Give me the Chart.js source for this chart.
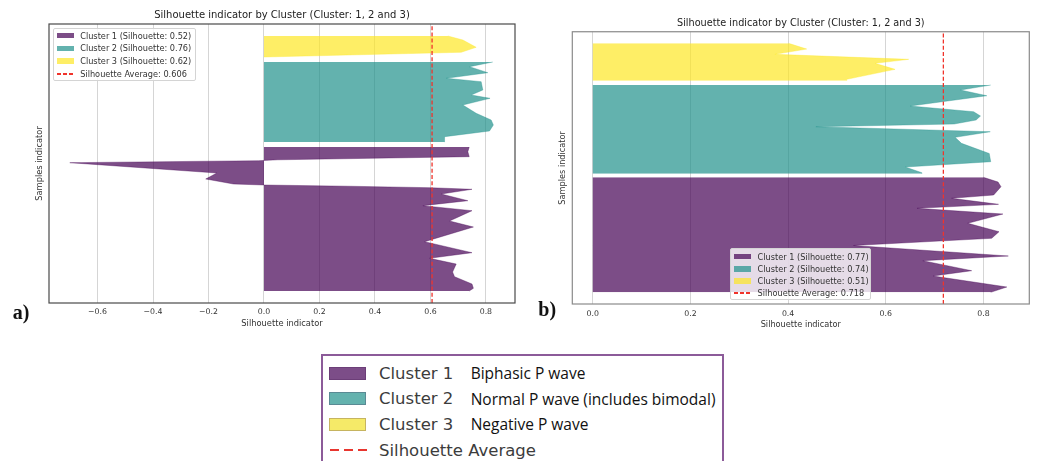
<!DOCTYPE html>
<html>
<head>
<meta charset="utf-8">
<title>Silhouette indicator by Cluster</title>
<script src="https://cdn.jsdelivr.net/npm/chart.js@4.4.1/dist/chart.umd.min.js"></script>
<style>
	html, body { margin: 0; padding: 0; background: #fff; }
	body { position: relative; width: 1038px; height: 461px; overflow: hidden; font-family: "DejaVu Sans", sans-serif; }
	canvas { position: absolute; top: 0; }
	#panelA { left: 0; }
	#panelB { left: 520px; }
	.tag { position: absolute; font: bold 20px "Liberation Serif", serif; line-height: 20px; color: #111; }
	.mpl-legend { position: absolute; box-sizing: border-box; border: 1px solid #d4d4d4; border-radius: 2px; background: rgba(255, 255, 255, 0.8); font-size: 8.2px; color: #333; }
	.mpl-legend .row { position: absolute; left: 3px; height: 10px; display: flex; align-items: center; white-space: nowrap; }
	.mpl-legend .swatch { width: 17px; height: 5.5px; margin-right: 6.5px; }
	.mpl-legend .dash { width: 17px; height: 2px; margin-right: 6.5px; display: flex; gap: 2px; }
	.mpl-legend .dash i { display: block; width: 4px; height: 2px; background: #f0332b; }
	#key { position: absolute; left: 321px; top: 354px; width: 399px; height: 120px; border: 2px solid #8c5b99; }
	#key .row { position: absolute; left: 0; height: 25.7px; width: 100%; display: flex; align-items: center; white-space: nowrap; }
	#key .swatch { position: absolute; left: 6px; width: 35px; height: 11px; border: 1px solid rgba(60, 20, 70, 0.25); }
	#key .dash { position: absolute; left: 7px; width: 37px; height: 2px; display: flex; gap: 5px; }
	#key .dash i { display: block; width: 9px; height: 2px; background: #e8362f; }
	#key .name { position: absolute; left: 56px; font: 16.5px "DejaVu Sans", sans-serif; color: #3c3c3c; }
	#key .meaning { position: absolute; left: 147.7px; font: 15.5px "Open Sans", sans-serif; color: #111; }
</style>
</head>
<body>
<canvas id="panelA" width="520" height="340"></canvas>
<canvas id="panelB" width="518" height="340"></canvas>
<div class="tag" style="left: 12.7px; top: 302px">a)</div>
<div class="tag" style="left: 538.3px; top: 298.5px">b)</div>
<div id="key"></div>
<script>
"use strict";

// a) samples are counted from the bottom of the axes, values are silhouette widths
const aCluster1Samples = [12, 14.7, 19, 26.3, 31, 39, 44.7, 50.3, 61.3, 76, 82, 92.3, 97.3, 102.3, 109, 113.7, 115.3, 116.8, 118, 119, 124, 130, 140.3, 142.3, 143.2, 145, 146.3, 151.3, 156];
const aCluster1Values = [0.74, 0.755, 0.75, 0.687, 0.68, 0.693, 0.597, 0.75, 0.579, 0.755, 0.669, 0.75, 0.573, 0.735, 0.639, 0.75, 0.6, 0.3, 0, -0.11, -0.21, -0.17, -0.7, -0.02, 0.05, 0.45, 0.74, 0.735, 0.74];
const aCluster2Samples = [161, 166.3, 172, 178, 183, 189.7, 198, 204.7, 208, 213, 221.3, 224.7, 230.3, 236.3, 241];
const aCluster2Values = [0.65, 0.651, 0.813, 0.827, 0.819, 0.765, 0.717, 0.815, 0.747, 0.789, 0.783, 0.657, 0.807, 0.741, 0.825];
const aCluster3Samples = [246, 250.7, 255.7, 263, 267];
const aCluster3Values = [0, 0.711, 0.765, 0.717, 0.663];
const aAverage = 0.606;
const aTicks = [-0.6, -0.4, -0.2, 0, 0.2, 0.4, 0.6, 0.8];
const aLegend = ["Cluster 1 (Silhouette: 0.52)", "Cluster 2 (Silhouette: 0.76)", "Cluster 3 (Silhouette: 0.62)", "Silhouette Average: 0.606"];

// b)
const bCluster1Samples = [11.7, 17, 28, 33.3, 43.3, 48, 58.5, 65.7, 72.3, 80.7, 90, 95.7, 99.7, 105.7, 109, 117.3, 122, 126.7];
const bCluster1Values = [0.815, 0.848, 0.697, 0.776, 0.676, 0.851, 0.534, 0.817, 0.832, 0.768, 0.84, 0.664, 0.831, 0.735, 0.821, 0.836, 0.83, 0.8];
const bCluster2Samples = [130.3, 131.3, 137, 142.3, 150.5, 160.7, 166.7, 172.3, 177.3, 180, 184, 188, 192.3, 198, 208.3, 214, 219];
const bCluster2Values = [0.674, 0.674, 0.64, 0.815, 0.812, 0.755, 0.742, 0.814, 0.457, 0.74, 0.785, 0.794, 0.78, 0.65, 0.807, 0.753, 0.815];
const bCluster3Samples = [223.3, 224.7, 234.7, 240.7, 244.7, 249.7, 255, 260.7];
const bCluster3Values = [0.52, 0.52, 0.619, 0.578, 0.647, 0.373, 0.438, 0.401];
const bAverage = 0.718;
const bTicks = [0, 0.2, 0.4, 0.6, 0.8];
const bLegend = ["Cluster 1 (Silhouette: 0.77)", "Cluster 2 (Silhouette: 0.74)", "Cluster 3 (Silhouette: 0.51)", "Silhouette Average: 0.718"];

const keyNames = ["Cluster 1", "Cluster 2", "Cluster 3", "Silhouette Average"];
const keyMeanings = ["Biphasic P wave", "Normal P wave (includes bimodal)", "Negative P wave", ""];

const titleText = "Silhouette indicator by Cluster (Cluster: 1, 2 and 3)";
const clusterColors = ["rgba(68, 1, 84, 0.7)", "rgba(33, 145, 140, 0.7)", "rgba(253, 231, 37, 0.7)"];
const keyColors = ["#7c4d88", "#64b2ae", "#f5ea68"];

// matplotlib draws a box round the whole axes
const frame = {
	id: "frame",
	afterDraw(chart, args, opts) {
		const { ctx, chartArea } = chart;
		ctx.save();
		ctx.strokeStyle = opts.color;
		ctx.lineWidth = opts.width;
		ctx.strokeRect(chartArea.left, chartArea.top, chartArea.right - chartArea.left, chartArea.bottom - chartArea.top);
		ctx.restore();
	},
};

function fmt(v) {
	return (v < 0 ? "\u2212" : "") + Math.abs(v).toFixed(1);
}

function dashMark(count) {
	const mark = document.createElement("div");
	mark.className = "dash";
	for (let i = 0; i < count; i++) mark.append(document.createElement("i"));
	return mark;
}

function silhouettePanel(canvas, p) {
	const datasets = [
		{
			label: p.legend[3],
			data: [
				{ x: p.average, y: 0 },
				{ x: p.average, y: p.samplesMax },
			],
			borderColor: "#f0332b",
			borderWidth: 1.3,
			borderDash: [4, 2.2],
			fill: false,
			order: 0,
		},
	];
	p.clusters.forEach(([samples, values], i) => {
		datasets.push({
			label: p.legend[i],
			data: samples.map((s, k) => ({ x: values[k], y: s })),
			borderColor: clusterColors[i],
			backgroundColor: clusterColors[i],
			borderWidth: 0.5,
			fill: "origin",
			order: 1,
		});
	});
	return new Chart(canvas.getContext("2d"), {
		type: "line",
		data: { datasets },
		options: {
			indexAxis: "y",
			responsive: false,
			animation: false,
			layout: { padding: { left: 0, right: p.padRight, top: 0, bottom: 0 } },
			elements: { point: { radius: 0 }, line: { tension: 0 } },
			plugins: {
				legend: { display: false },
				tooltip: { enabled: false },
				title: {
					display: true,
					text: titleText,
					fullSize: false,
					color: "#222",
					font: { family: "DejaVu Sans", size: p.titleSize, weight: "normal" },
					padding: p.titlePadding,
				},
				frame: { color: p.frameColor, width: 1.2 },
			},
			scales: {
				x: {
					type: "linear",
					min: p.xMin,
					max: p.xMax,
					z: 1, // grid sits over the fills, as in the picture
					afterBuildTicks(scale) {
						scale.ticks = p.ticks.map((v) => ({ value: v }));
					},
					afterFit(scale) {
						scale.height = p.xHeight;
					},
					grid: { color: "rgba(185, 185, 185, 0.6)", lineWidth: 1, drawTicks: false },
					border: { display: false },
					ticks: {
						padding: p.tickPadding,
						color: "#333",
						font: { family: "DejaVu Sans", size: 7.8 },
						maxRotation: 0,
						callback: (v) => fmt(v),
					},
					title: {
						display: true,
						text: "Silhouette indicator",
						color: "#333",
						font: { family: "DejaVu Sans", size: p.labelSize },
						padding: { top: 0, bottom: p.xTitleBottom },
					},
				},
				y: {
					type: "linear",
					min: 0,
					max: p.samplesMax,
					afterFit(scale) {
						scale.width = p.yWidth;
					},
					grid: { display: false },
					border: { display: false },
					ticks: { display: false },
					title: {
						display: true,
						text: "Samples indicator",
						color: "#333",
						font: { family: "DejaVu Sans", size: p.labelSize },
						padding: { top: p.yTitleTop, bottom: 0 },
					},
				},
			},
		},
		plugins: [frame],
	});
}

function mplLegend(labels, box) {
	const div = document.createElement("div");
	div.className = "mpl-legend";
	Object.assign(div.style, {
		left: box.left + "px",
		top: box.top + "px",
		width: box.width + "px",
		height: box.height + "px",
	});
	labels.forEach((text, i) => {
		const row = document.createElement("div");
		row.className = "row";
		row.style.top = box.first + i * box.step - 5 + "px";
		let mark;
		if (i < 3) {
			mark = document.createElement("div");
			mark.className = "swatch";
			mark.style.background = clusterColors[i];
		} else {
			mark = dashMark(3);
		}
		const span = document.createElement("span");
		span.textContent = text;
		row.append(mark, span);
		div.append(row);
	});
	document.body.append(div);
}

silhouettePanel(document.querySelector("#panelA"), {
	clusters: [
		[aCluster1Samples, aCluster1Values],
		[aCluster2Samples, aCluster2Values],
		[aCluster3Samples, aCluster3Values],
	],
	average: aAverage,
	legend: aLegend,
	ticks: aTicks,
	xMin: -0.775,
	xMax: 0.905,
	samplesMax: 279,
	padRight: 5,
	yWidth: 49,
	xHeight: 37,
	titleSize: 10,
	titlePadding: { top: 9.5, bottom: 2.5 },
	labelSize: 8.3,
	tickPadding: 4.7,
	xTitleBottom: 11,
	yTitleTop: 35,
	frameColor: "#4a4a4a",
});

silhouettePanel(document.querySelector("#panelB"), {
	clusters: [
		[bCluster1Samples, bCluster1Values],
		[bCluster2Samples, bCluster2Values],
		[bCluster3Samples, bCluster3Values],
	],
	average: bAverage,
	legend: bLegend,
	ticks: bTicks,
	xMin: -0.042,
	xMax: 0.894,
	samplesMax: 272.3,
	padRight: 8.7,
	yWidth: 52.3,
	xHeight: 36,
	titleSize: 9.7,
	titlePadding: { top: 17.5, bottom: 2.6 },
	labelSize: 8.2,
	tickPadding: 5.3,
	xTitleBottom: 10.1,
	yTitleTop: 37.8,
	frameColor: "#8a8a8a",
});

mplLegend(aLegend, { left: 52.7, top: 28.3, width: 143.3, height: 52.7, first: 6.4, step: 12.67 });
mplLegend(bLegend, { left: 730, top: 248.3, width: 140.7, height: 51.7, first: 7.4, step: 12.2 });

// key box under the two panels
const key = document.querySelector("#key");
keyNames.forEach((name, i) => {
	const row = document.createElement("div");
	row.className = "row";
	row.style.top = 4.2 + i * 25.7 + "px";
	let mark;
	if (i < 3) {
		mark = document.createElement("div");
		mark.className = "swatch";
		mark.style.background = keyColors[i];
	} else {
		mark = dashMark(3);
	}
	const n = document.createElement("span");
	n.className = "name";
	n.textContent = name;
	row.append(mark, n);
	if (keyMeanings[i]) {
		const m = document.createElement("span");
		m.className = "meaning";
		m.textContent = keyMeanings[i];
		row.append(m);
	}
	key.append(row);
});
</script>
</body>
</html>
